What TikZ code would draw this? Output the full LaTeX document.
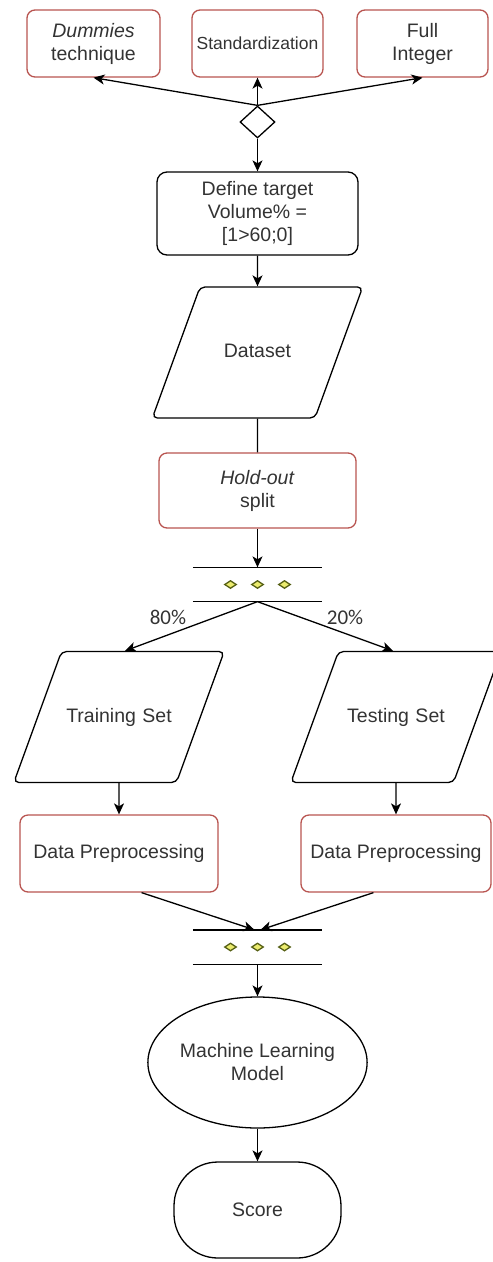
\documentclass[tikz,border=0pt]{standalone}
\usepackage{fontspec}
\setmainfont{Liberation Sans}
\newfontfamily\pctfont{Carlito}
\usepackage{tikz}
\usetikzlibrary{arrows.meta,shapes.geometric}

\definecolor{boxred}{RGB}{184,84,80}
\definecolor{txtgray}{RGB}{51,51,51}
\definecolor{dotfill}{RGB}{235,235,110}
\definecolor{dotline}{RGB}{85,95,20}

\begin{document}
\begin{tikzpicture}[x=1pt,y=-1pt,->,>={Stealth[length=11pt,width=10pt,inset=3pt]},line width=1.3pt,
				base/.style={inner sep=0pt,align=center,text=txtgray,font=\fontsize{19.5}{23}\selectfont},
				red node/.style={base,draw=boxred,rounded corners=8pt},
				black node/.style={base,draw,rounded corners=10pt},
				data node/.style={base,draw,trapezium,trapezium left angle=70,trapezium right angle=110,
					text width=115pt,text height=14pt,text depth=4pt,inner xsep=0pt,inner ysep=56.5pt,rounded corners=5pt},
				fork node/.style={inner sep=0pt,minimum width=128pt,minimum height=33pt},
				dot/.style={diamond,draw=dotline,fill=dotfill,line width=1.3pt,inner sep=0pt,minimum width=12pt,minimum height=8pt},
				pct/.style={inner sep=0pt,text=txtgray,font=\pctfont\fontsize{21}{23}\selectfont}]
				
				\useasboundingbox (0,0) rectangle (493,1262);
				\clip (0,0) rectangle (493,1262);
				
				% top row
				\node[red node,minimum width=133pt,minimum height=67pt] (dum) at (93.5,43.5) {\textit{Dummies}\\technique};
				\node[red node,minimum width=131pt,minimum height=67pt,font=\fontsize{17.5}{21}\selectfont] (std) at (257.5,43.5) {Standardization};
				\node[red node,minimum width=131pt,minimum height=67pt] (full) at (422.5,43.5) {Full\\Integer};
				\node[draw,diamond,inner sep=0pt,minimum width=35pt,minimum height=32pt] (dec) at (257.5,122) {};
				
				% main column
				\node[black node,minimum width=201pt,minimum height=83pt] (target) at (257.5,213.5) {Define target\\Volume\% =\\{[}1>60;0{]}};
				\node[data node] (data) at (257.5,352.5) {Dataset};
				\node[red node,minimum width=197pt,minimum height=75pt] (hold) at (257.5,490.5) {\textit{Hold-out}\\split};
				\node[fork node] (fork1) at (257.5,584.5) {};
				
				\node[data node] (train) at (119,717) {Training Set};
				\node[data node] (test) at (396,717) {Testing Set};
				\node[red node,minimum width=198pt,minimum height=77pt] (prepl) at (119,853.5) {Data Preprocessing};
				\node[red node,minimum width=190pt,minimum height=77pt] (prepr) at (396,853.5) {Data Preprocessing};
				\node[fork node] (fork2) at (257.5,947) {};
				
				\node[base,draw,ellipse,minimum width=192pt,minimum height=131pt] (ml) at (257.5,1062.5) {Machine Learning\\Model};
				\node[base,draw,rounded corners=44pt,minimum width=167pt,minimum height=96pt] (score) at (257.5,1210) {Score};
				
				% fork bars and dots
				\foreach \f in {fork1,fork2}{
					\draw[-] (\f.north west) -- (\f.north east);
					\draw[-] (\f.south west) -- (\f.south east);
					\foreach \i/\dx in {1/-27,2/0,3/27}
						\node[dot] (\f d\i) at ([xshift=\dx pt]\f.center) {};
				}
				
				\draw (dec.north) -- (dum.south);
				\draw (dec.north) -- (std.south);
				\draw (dec.north) -- (full.south);
				\draw (dec.south) -- (target.north);
				\draw (target.south) -- (data.north);
				\draw[-] (data.south) -- (hold.north);
				\draw (hold.south) -- (fork1.north);
				\draw (fork1.south) -- node[pct,pos=0.33,left=27pt] (p80) {80\%} ([xshift=6pt]train.north);
				\draw (fork1.south) -- node[pct,pos=0.33,right=24pt] (p20) {20\%} ([xshift=-3pt]test.north);
				\draw (train.south) -- (prepl.north);
				\draw (test.south) -- (prepr.north);
				\draw (prepl.-60) -- ([xshift=-3pt]fork2.north);
				\draw (prepr.-120) -- ([xshift=3pt]fork2.north);
				\draw (fork2.south) -- (ml.north);
				\draw (ml.south) -- (score.north);
				
				\end{tikzpicture}
\end{document}
